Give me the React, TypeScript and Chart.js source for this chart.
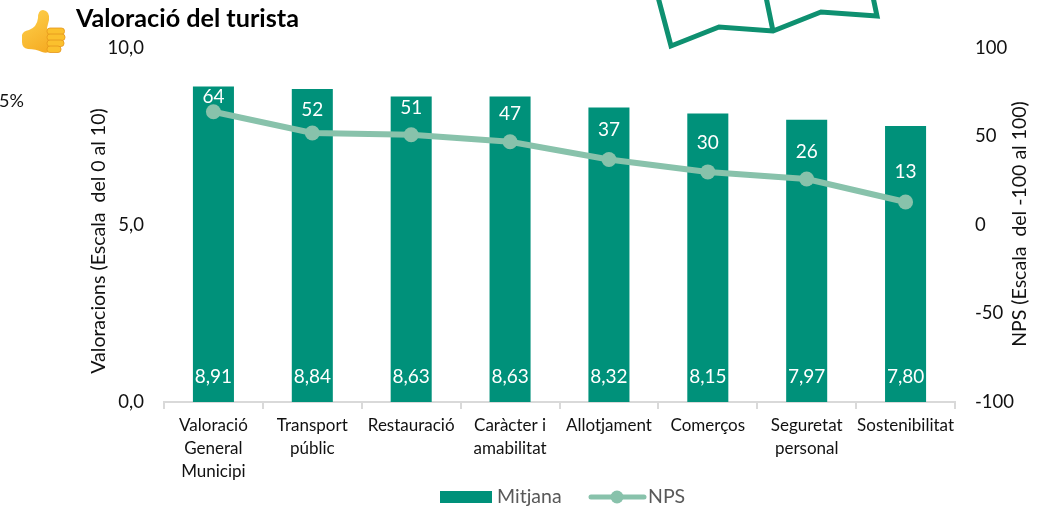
import React, { useEffect, useRef } from "react";
import { Chart, registerables } from "chart.js";

Chart.register(...registerables);

const categories = [
  ["Valoració", "General", "Municipi"],
  ["Transport", "públic"],
  ["Restauració"],
  ["Caràcter i", "amabilitat"],
  ["Allotjament"],
  ["Comerços"],
  ["Seguretat", "personal"],
  ["Sostenibilitat"],
];
const mitjana = [8.91, 8.84, 8.63, 8.63, 8.32, 8.15, 7.97, 7.8];
const nps = [64, 52, 51, 47, 37, 30, 26, 13];
const leftTicks = [0, 5, 10];
const rightTicks = [-100, -50, 0, 50, 100];
const npsLabelGap = [15, 23, 27, 28, 30, 29, 27, 30];

const FONT = "Lato, 'Open Sans', sans-serif";
const BAR = "#00917A";
const LINE = "#88C2AB";
const GRID = "#D9D9D9";
const TEXT = "#111111";
const LEGEND_TEXT = "#595959";

function drawThumb(ctx: CanvasRenderingContext2D) {
  ctx.save();
  const g = ctx.createLinearGradient(20, 10, 50, 55);
  g.addColorStop(0, "#FFD34E");
  g.addColorStop(1, "#F4A81F");
  ctx.fillStyle = g;
  ctx.beginPath();
  ctx.moveTo(22, 35);
  ctx.quadraticCurveTo(23, 31, 29, 30);
  ctx.quadraticCurveTo(37, 27, 38, 18);
  ctx.quadraticCurveTo(38, 10, 43, 10);
  ctx.quadraticCurveTo(50, 11, 49, 20);
  ctx.lineTo(47, 28);
  ctx.lineTo(52, 50);
  ctx.quadraticCurveTo(48, 54, 42, 52);
  ctx.quadraticCurveTo(36, 49, 28, 49);
  ctx.quadraticCurveTo(22, 48, 22, 42);
  ctx.closePath();
  ctx.fill();
  const rows: number[][] = [[28, 64.5], [34, 65], [40, 64], [46, 61]];
  rows.forEach(([y, r]) => {
    ctx.beginPath();
    ctx.roundRect(47, y, r - 47, 6.5, 3);
    ctx.fillStyle = "#FBC02D";
    ctx.fill();
    ctx.strokeStyle = "#E5961C";
    ctx.lineWidth = 0.8;
    ctx.stroke();
  });
  ctx.restore();
}

function drawMap(ctx: CanvasRenderingContext2D) {
  ctx.save();
  ctx.strokeStyle = "#0E9070";
  ctx.lineWidth = 5;
  ctx.lineJoin = "miter";
  ctx.beginPath();
  ctx.moveTo(658, -3);
  ctx.lineTo(671, 46);
  ctx.lineTo(719, 27);
  ctx.lineTo(773, 31);
  ctx.lineTo(821, 12);
  ctx.lineTo(877, 16);
  ctx.lineTo(873, -3);
  ctx.moveTo(766, -3);
  ctx.lineTo(773, 31);
  ctx.stroke();
  ctx.restore();
}

function verticalText(ctx: CanvasRenderingContext2D, text: string, x: number, y: number) {
  ctx.save();
  ctx.translate(x, y);
  ctx.rotate(-Math.PI / 2);
  ctx.textAlign = "center";
  ctx.textBaseline = "middle";
  ctx.fillText(text, 0, 0);
  ctx.restore();
}

function drawLegend(ctx: CanvasRenderingContext2D, chart: any) {
  const line = chart.data.datasets[0];
  const bar = chart.data.datasets[1];
  ctx.save();
  ctx.fillStyle = bar.backgroundColor;
  ctx.fillRect(440, 491, 52, 12);
  ctx.strokeStyle = line.borderColor;
  ctx.fillStyle = line.borderColor;
  ctx.lineWidth = 5;
  ctx.lineCap = "round";
  ctx.beginPath();
  ctx.moveTo(591, 497);
  ctx.lineTo(644, 497);
  ctx.stroke();
  ctx.beginPath();
  ctx.arc(617, 497, 6.5, 0, Math.PI * 2);
  ctx.fill();
  ctx.fillStyle = LEGEND_TEXT;
  ctx.font = `19.5px ${FONT}`;
  ctx.textAlign = "left";
  ctx.textBaseline = "middle";
  ctx.fillText(bar.label, 497, 497);
  ctx.fillText(line.label, 648, 497);
  ctx.restore();
}

const decorations = {
  id: "decorations",
  afterDraw(chart: any) {
    const { ctx, scales } = chart;
    drawThumb(ctx);
    drawMap(ctx);
    drawLegend(ctx, chart);
    ctx.save();
    ctx.fillStyle = "#000";
    ctx.textBaseline = "middle";
    ctx.font = `bold 25.2px ${FONT}`;
    ctx.textAlign = "left";
    ctx.fillText("Valoració del turista", 76, 19);
    ctx.font = `18px ${FONT}`;
    ctx.fillStyle = TEXT;
    ctx.fillText("5%", -1, 101);
    ctx.font = `19.5px ${FONT}`;
    verticalText(ctx, "Valoracions (Escala  del 0 al 10)", 99, 241);
    verticalText(ctx, "NPS (Escala  del -100 al 100)", 1020, 224);
    ctx.restore();

    ctx.save();
    ctx.fillStyle = "#fff";
    ctx.font = `19px ${FONT}`;
    ctx.textAlign = "center";
    ctx.textBaseline = "middle";
    chart.getDatasetMeta(1).data.forEach((el: any, i: number) => {
      ctx.fillText(mitjana[i].toFixed(2).replace(".", ","), el.x, scales.y.getPixelForValue(0) - 25);
    });
    chart.getDatasetMeta(0).data.forEach((el: any, i: number) => {
      ctx.fillText(String(nps[i]), el.x, el.y - npsLabelGap[i]);
    });
    ctx.restore();
  },
};

export default function App() {
  const ref = useRef<HTMLCanvasElement>(null);
  useEffect(() => {
    const chart = new Chart(ref.current!, {
      data: {
        labels: categories,
        datasets: [
          {
            type: "line" as const,
            label: "NPS",
            data: nps,
            yAxisID: "y2",
            borderColor: LINE,
            backgroundColor: LINE,
            borderWidth: 6,
            pointRadius: 7.5,
            pointBackgroundColor: LINE,
            pointBorderWidth: 0,
            tension: 0,
            order: 1,
          },
          {
            type: "bar" as const,
            label: "Mitjana",
            data: mitjana,
            yAxisID: "y",
            backgroundColor: BAR,
            barPercentage: 0.415,
            categoryPercentage: 1,
            order: 2,
          },
        ] as any,
      },
      options: {
        animation: false,
        responsive: false,
        layout: { padding: { top: 48, left: 0, right: 0, bottom: 0 } },
        plugins: {
          tooltip: { enabled: false },
          legend: { display: false },
        },
        scales: {
          x: {
            offset: true,
            afterFit: (s: any) => { s.height = 106; },
            grid: { offset: true, drawOnChartArea: false, drawTicks: true, tickLength: 7, color: GRID, lineWidth: 2 },
            border: { color: GRID, width: 2 },
            ticks: {
              color: TEXT,
              font: { family: FONT, size: 17, lineHeight: 1.35 },
              maxRotation: 0,
              autoSkip: false,
              padding: 5,
            },
          },
          y: {
            position: "left",
            min: 0,
            max: 10,
            afterFit: (s: any) => { s.width = 164; },
            afterBuildTicks: (s: any) => { s.ticks = leftTicks.map((value) => ({ value })); },
            grid: { display: false },
            border: { display: false },
            ticks: {
              color: TEXT,
              padding: 12,
              font: { family: FONT, size: 18.5 },
              callback: (v: any) => Number(v).toFixed(1).replace(".", ","),
            },
          },
          y2: {
            position: "right",
            min: -100,
            max: 100,
            afterFit: (s: any) => { s.width = 91; },
            afterBuildTicks: (s: any) => { s.ticks = rightTicks.map((value) => ({ value })); },
            grid: { display: false },
            border: { display: false },
            ticks: {
              color: TEXT,
              padding: 12,
              font: { family: FONT, size: 18.5 },
            },
          },
        },
      },
      plugins: [decorations],
    } as any);
    return () => chart.destroy();
  }, []);
  return (
    <div style={{ position: "absolute", left: 0, top: 0, width: 1046, height: 508, background: "#fff" }}>
      <canvas ref={ref} width={1046} height={508} style={{ display: "block" }} />
    </div>
  );
}
